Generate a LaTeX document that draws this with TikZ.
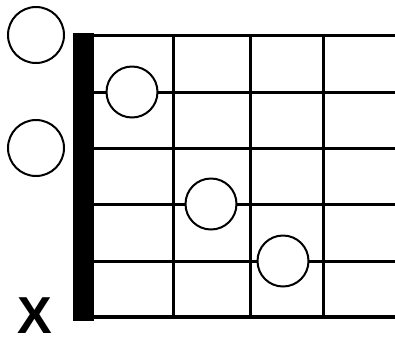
\documentclass[tikz,border=0pt]{standalone}
\usepackage{fontspec}
\setmainfont{Liberation Sans}
\begin{document}
\begin{tikzpicture}[x=1pt,y=-1pt,
  stringline/.style={line width=3pt},
  fretline/.style={line width=3pt},
  opencirc/.style={circle,draw,line width=2pt,fill=white,minimum size=56pt,inner sep=0pt},
  fingercirc/.style={circle,draw,line width=2pt,fill=white,minimum size=51pt,inner sep=0pt}]
\useasboundingbox (0,0) rectangle (395,341);
% strings
\foreach \y/\w in {35/3,92/3,148/3,204/3,261/3,317/4}
  \draw[line width=\w pt] (84,\y) -- (395,\y);
% frets
\foreach \x in {173,250,323}
  \draw[fretline] (\x,35) -- (\x,317);
% nut
\fill (73,33) rectangle (94,321);
% open strings
\node[opencirc] (o1) at (36,35) {};
\node[opencirc] (o3) at (36,148) {};
% muted
\node[font=\bfseries\fontsize{52}{52}\selectfont,inner sep=0pt] (m6) at (35,316) {X};
% fingers
\node[fingercirc] (f2) at (132,92) {};
\node[fingercirc] (f4) at (211,204) {};
\node[fingercirc] (f5) at (283,261) {};
\end{tikzpicture}
\end{document}
